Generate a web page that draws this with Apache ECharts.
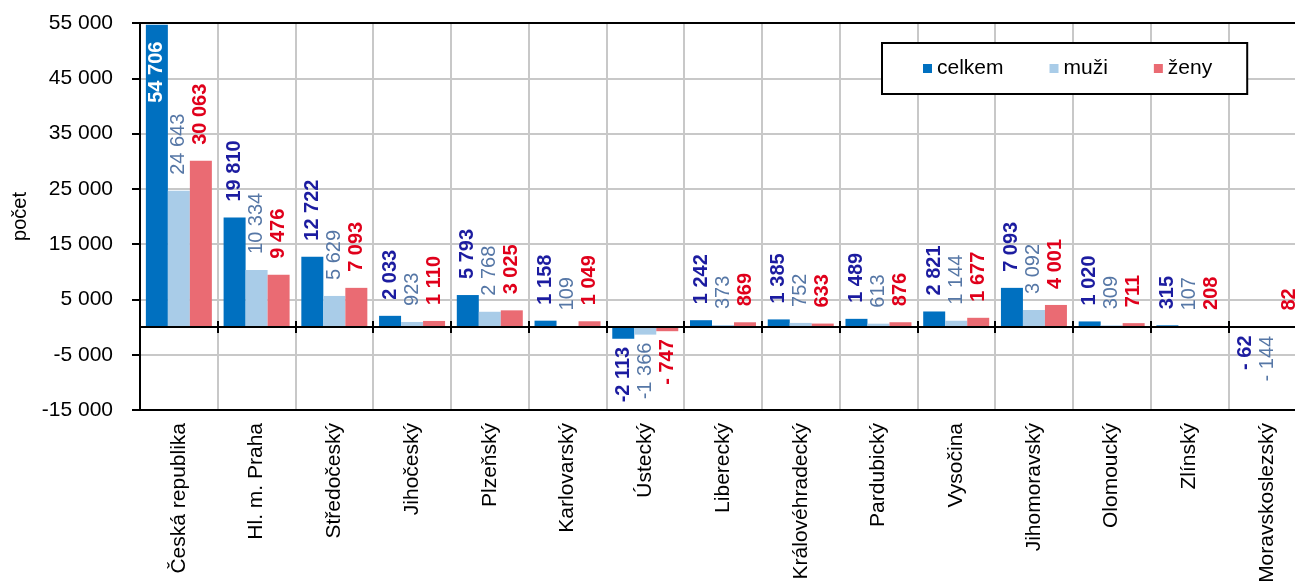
<!DOCTYPE html>
<html><head><meta charset="utf-8">
<script src="https://cdn.jsdelivr.net/npm/echarts@6/dist/echarts.min.js"></script>
<style>html,body{margin:0;padding:0;background:#fff}#c{width:1295px;height:583px}</style>
</head><body><div id="c"></div>
<script>
const categories = ['Česká republika','Hl. m. Praha','Středočeský','Jihočeský','Plzeňský','Karlovarský','Ústecký','Liberecký','Královéhradecký','Pardubický','Vysočina','Jihomoravský','Olomoucký','Zlínský','Moravskoslezský'];
const celkem = [54706, 19810, 12722, 2033, 5793, 1158, -2113, 1242, 1385, 1489, 2821, 7093, 1020, 315, -62];
const muzi   = [24643, 10334, 5629, 923, 2768, 109, -1366, 373, 752, 613, 1144, 3092, 309, 107, -144];
const zeny   = [30063, 9476, 7093, 1110, 3025, 1049, -747, 869, 633, 876, 1677, 4001, 711, 208, 82];
const seriesNames = ['celkem', 'muži', 'ženy'];
const yMin = -15000, yMax = 55000, yInterval = 10000;
const yName = 'počet';

const FONT = "'Liberation Sans', Arial, sans-serif";
function fmt(v) {
  const a = Math.abs(v);
  const s = String(a).replace(/\B(?=(\d{3})+(?!\d))/g, ' ');
  if (v < 0) return (a < 1000 ? '- ' : '-') + s;
  return s;
}
function items(values) {
  return values.map(v => {
    let label;
    if (v > 50000) label = { position: 'insideTop', distance: 17, align: 'right', color: '#ffffff' };
    else if (v >= 0) label = { position: 'top', distance: 16, align: 'left' };
    else label = { position: 'bottom', distance: 8, align: 'right' };
    return { value: v, label };
  });
}
function barSeries(name, values, color, labelColor, bold) {
  return {
    name, type: 'bar', xAxisIndex: 0, yAxisIndex: 0,
    barWidth: 22, barGap: '0%',
    itemStyle: { color },
    data: items(values),
    label: {
      show: true, rotate: 90, verticalAlign: 'middle',
      fontSize: 20, fontFamily: FONT, color: labelColor,
      fontWeight: bold ? 'bold' : 'normal',
      formatter: p => fmt(p.value)
    }
  };
}
const chart = echarts.init(document.getElementById('c'), null, { renderer: 'canvas' });
const blackLine = { color: '#000', width: 2 };
chart.setOption({
  animation: false,
  backgroundColor: '#fff',
  textStyle: { fontFamily: FONT },
  grid: { left: 140, top: 23, width: 1166, bottom: 173, containLabel: false, outerBoundsMode: 'none' },
  legend: {
    data: seriesNames, left: 882, top: 43, icon: 'rect', itemWidth: 9, itemHeight: 9,
    itemGap: 46, padding: [15, 35, 15, 41], borderColor: '#000', borderWidth: 2,
    backgroundColor: '#fff', textStyle: { fontSize: 21, color: '#000', fontFamily: FONT }
  },
  xAxis: [
    { type: 'category', data: categories, position: 'bottom',
      axisLine: { onZero: false, lineStyle: blackLine }, axisTick: { show: false },
      axisLabel: { rotate: 90, fontSize: 21, color: '#000', margin: 13, interval: 0, fontFamily: FONT },
      splitLine: { show: true, interval: 0, lineStyle: { color: '#c8c8c8', width: 2 } } },
    { type: 'category', data: categories, position: 'bottom', z: 5,
      axisLine: { onZero: true, onZeroAxisIndex: 0, lineStyle: blackLine },
      axisTick: { show: true, interval: 0, length: 6, lineStyle: blackLine },
      axisLabel: { show: false }, splitLine: { show: false } },
    { type: 'category', data: categories, position: 'top', z: 5,
      axisLine: { onZero: true, onZeroAxisIndex: 0, lineStyle: blackLine },
      axisTick: { show: true, interval: 0, length: 6, lineStyle: blackLine },
      axisLabel: { show: false }, splitLine: { show: false } },
    { type: 'category', data: categories, position: 'top', z: 5,
      axisLine: { onZero: false, lineStyle: blackLine },
      axisTick: { show: false }, axisLabel: { show: false }, splitLine: { show: false } }
  ],
  yAxis: [
    { type: 'value', min: yMin, max: yMax, interval: yInterval,
      name: yName, nameLocation: 'middle', nameGap: 110,
      nameTextStyle: { fontSize: 20, color: '#000', fontFamily: FONT },
      axisLine: { show: true, lineStyle: blackLine },
      axisTick: { show: true, length: 8, lineStyle: blackLine },
      axisLabel: { formatter: fmt, fontSize: 21, color: '#000', margin: 27, fontFamily: FONT },
      splitLine: { show: true, showMinLine: false, showMaxLine: false, lineStyle: { color: '#c8c8c8', width: 2 } } }
  ],
  series: [
    barSeries(seriesNames[0], celkem, '#0070C0', '#1c1ca0', true),
    barSeries(seriesNames[1], muzi, '#A9CCE8', '#5677a6', false),
    barSeries(seriesNames[2], zeny, '#EA6B73', '#e0001b', true)
  ]
});
</script></body></html>
